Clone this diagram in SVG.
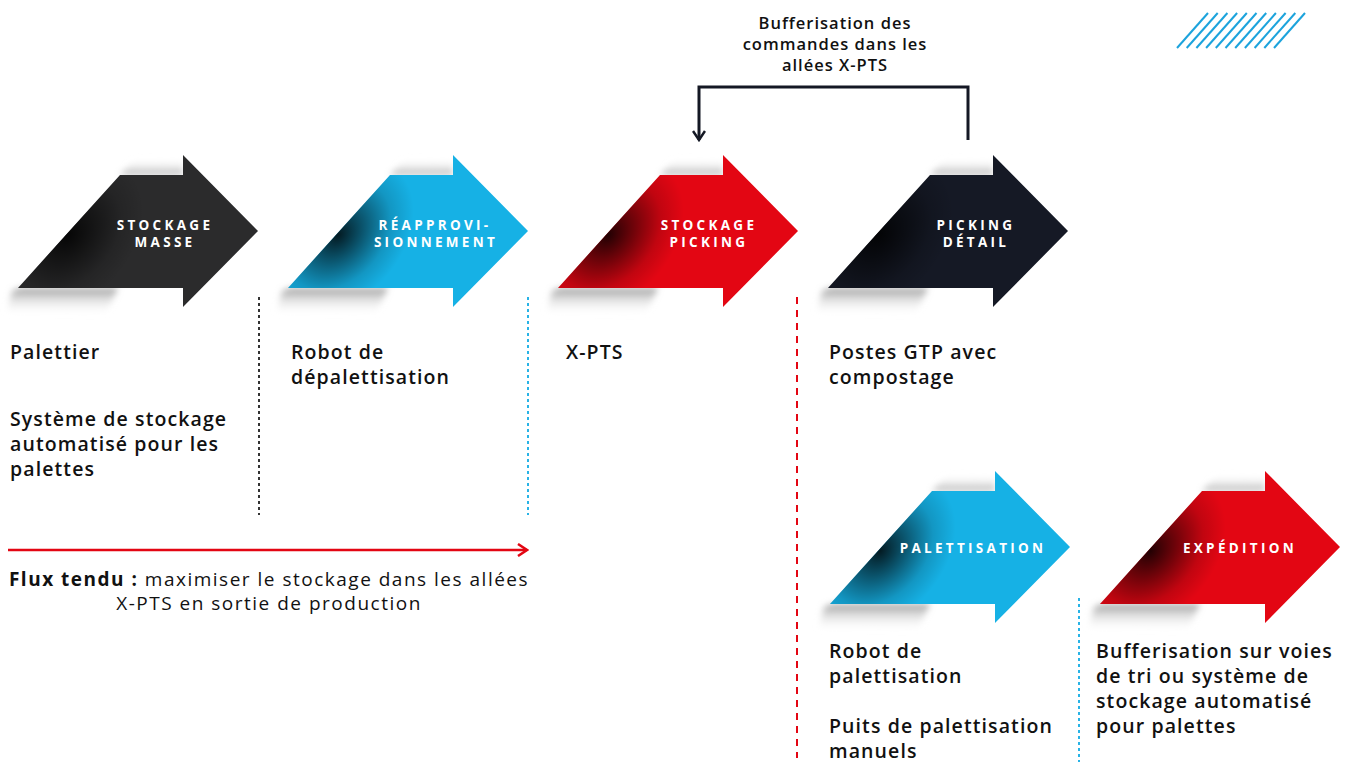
<svg xmlns="http://www.w3.org/2000/svg" width="1349" height="762" viewBox="0 0 1349 762">
<style>
.lbl{font-family:"Open Sans","Liberation Sans",sans-serif;font-weight:700;font-size:13.5px;fill:#fff;letter-spacing:3.3px;text-anchor:middle}
.txt{font-family:"Open Sans","Liberation Sans",sans-serif;font-weight:600;font-size:19.5px;fill:#111;letter-spacing:1.1px}
.top{font-family:"Open Sans","Liberation Sans",sans-serif;font-weight:600;font-size:16.5px;fill:#111;letter-spacing:1px;text-anchor:middle}
.reg{font-family:"Open Sans","Liberation Sans",sans-serif;font-weight:400;font-size:19px;fill:#111;letter-spacing:1.5px;text-anchor:middle}
.sep{fill:none;stroke-width:2}
</style>
<defs>
<path id="arr" d="M0,133 L102,20 L165,20 L165,0 L240,76 L165,152 L165,133 Z"/>
<radialGradient id="shade" gradientUnits="userSpaceOnUse" cx="0" cy="0" r="1" gradientTransform="translate(50,80) rotate(-48) scale(88,64)">
<stop offset="0" stop-color="#000" stop-opacity="0.85"/>
<stop offset="0.35" stop-color="#000" stop-opacity="0.5"/>
<stop offset="0.7" stop-color="#000" stop-opacity="0.15"/>
<stop offset="1" stop-color="#000" stop-opacity="0"/>
</radialGradient>
<linearGradient id="shB" x1="0" y1="0" x2="0" y2="1">
<stop offset="0" stop-color="#9e9e9e"/>
<stop offset="1" stop-color="#fff" stop-opacity="0"/>
</linearGradient>
<linearGradient id="shT" x1="0" y1="1" x2="0" y2="0">
<stop offset="0" stop-color="#b0b0b0"/>
<stop offset="1" stop-color="#fff" stop-opacity="0"/>
</linearGradient>
<filter id="blur" x="-30%" y="-50%" width="160%" height="200%"><feGaussianBlur stdDeviation="3"/></filter>
<g id="shadows">
<path d="M-6,136 L2,133 L100,133 L88,158 L-12,160 Z" fill="url(#shB)" filter="url(#blur)"/>
<path d="M102,20 L118,4 L165,6 L165,20 Z" fill="url(#shT)" filter="url(#blur)"/>
</g>
<marker id="chevN" viewBox="0 0 12 14" refX="10" refY="7" markerWidth="12" markerHeight="14" markerUnits="userSpaceOnUse" orient="auto">
<path d="M1,1 L10,7 L1,13" fill="none" stroke="#141824" stroke-width="2.5"/>
</marker>
<marker id="chevR" viewBox="0 0 12 14" refX="10" refY="7" markerWidth="12" markerHeight="14" markerUnits="userSpaceOnUse" orient="auto">
<path d="M1,1 L10,7 L1,13" fill="none" stroke="#e30613" stroke-width="2.5"/>
</marker>
</defs>
<rect width="1349" height="762" fill="#fff"/>

<g id="hatch" stroke="#1ca3dc" stroke-width="2">
<line x1="1177" y1="48" x2="1208" y2="13"/>
<line x1="1186.7" y1="48" x2="1217.7" y2="13"/>
<line x1="1196.4" y1="48" x2="1227.4" y2="13"/>
<line x1="1206.1" y1="48" x2="1237.1" y2="13"/>
<line x1="1215.8" y1="48" x2="1246.8" y2="13"/>
<line x1="1225.5" y1="48" x2="1256.5" y2="13"/>
<line x1="1235.2" y1="48" x2="1266.2" y2="13"/>
<line x1="1244.9" y1="48" x2="1275.9" y2="13"/>
<line x1="1254.6" y1="48" x2="1285.6" y2="13"/>
<line x1="1264.3" y1="48" x2="1295.3" y2="13"/>
<line x1="1274" y1="48" x2="1305" y2="13"/>
</g>

<g id="node-stockage-masse">
<use href="#shadows" transform="translate(18,155)"/>
<use href="#arr" transform="translate(18,155)" fill="#2b2b2c"/>
<use href="#arr" transform="translate(18,155)" fill="url(#shade)"/>
<text class="lbl" x="165" y="230">STOCKAGE</text>
<text class="lbl" x="165" y="247">MASSE</text>
</g>
<g id="node-reappro">
<use href="#shadows" transform="translate(288,155)"/>
<use href="#arr" transform="translate(288,155)" fill="#16b1e5"/>
<use href="#arr" transform="translate(288,155)" fill="url(#shade)"/>
<text class="lbl" x="435" y="230">RÉAPPROVI-</text>
<text class="lbl" x="436" y="247">SIONNEMENT</text>
</g>
<g id="node-stockage-picking">
<use href="#shadows" transform="translate(558,155)"/>
<use href="#arr" transform="translate(558,155)" fill="#e30613"/>
<use href="#arr" transform="translate(558,155)" fill="url(#shade)"/>
<text class="lbl" x="709" y="230">STOCKAGE</text>
<text class="lbl" x="709" y="247">PICKING</text>
</g>
<g id="node-picking-detail">
<use href="#shadows" transform="translate(828,155)"/>
<use href="#arr" transform="translate(828,155)" fill="#151925"/>
<use href="#arr" transform="translate(828,155)" fill="url(#shade)"/>
<text class="lbl" x="976" y="230">PICKING</text>
<text class="lbl" x="976" y="247">DÉTAIL</text>
</g>
<g id="node-palettisation">
<use href="#shadows" transform="translate(830,471)"/>
<use href="#arr" transform="translate(830,471)" fill="#16b1e5"/>
<use href="#arr" transform="translate(830,471)" fill="url(#shade)"/>
<text class="lbl" x="973" y="553">PALETTISATION</text>
</g>
<g id="node-expedition">
<use href="#shadows" transform="translate(1100,471)"/>
<use href="#arr" transform="translate(1100,471)" fill="#e30613"/>
<use href="#arr" transform="translate(1100,471)" fill="url(#shade)"/>
<text class="lbl" x="1240" y="553">EXPÉDITION</text>
</g>

<g id="separators">
<line class="sep" x1="259" y1="297" x2="259" y2="515" stroke="#333" stroke-dasharray="3,3"/>
<line class="sep" x1="528" y1="297" x2="528" y2="515" stroke="#29b3e6" stroke-dasharray="3,3"/>
<line class="sep" x1="797" y1="297" x2="797" y2="758" stroke="#e30613" stroke-dasharray="7,6"/>
<line class="sep" x1="1079" y1="598" x2="1079" y2="762" stroke="#29b3e6" stroke-dasharray="3,3"/>
</g>

<g id="connectors">
<path d="M968,140 V87 H699 V140" fill="none" stroke="#141824" stroke-width="3" marker-end="url(#chevN)"/>
<path d="M8,550 H527" fill="none" stroke="#e30613" stroke-width="2.5" marker-end="url(#chevR)"/>
</g>

<g id="texts">
<text class="top"><tspan x="835" y="29">Bufferisation des</tspan><tspan x="835" y="50">commandes dans les</tspan><tspan x="835" y="71">allées X-PTS</tspan></text>
<text class="txt" x="10" y="359">Palettier</text>
<text class="txt"><tspan x="10" y="426">Système de stockage</tspan><tspan x="10" y="451">automatisé pour les</tspan><tspan x="10" y="476">palettes</tspan></text>
<text class="txt"><tspan x="291" y="359">Robot de</tspan><tspan x="291" y="384">dépalettisation</tspan></text>
<text class="txt" x="566" y="359">X-PTS</text>
<text class="txt"><tspan x="829" y="359">Postes GTP avec</tspan><tspan x="829" y="384">compostage</tspan></text>
<text class="txt"><tspan x="829" y="658">Robot de</tspan><tspan x="829" y="683">palettisation</tspan><tspan x="829" y="733">Puits de palettisation</tspan><tspan x="829" y="758">manuels</tspan></text>
<text class="txt"><tspan x="1096" y="658">Bufferisation sur voies</tspan><tspan x="1096" y="683">de tri ou système de</tspan><tspan x="1096" y="708">stockage automatisé</tspan><tspan x="1096" y="733">pour palettes</tspan></text>
<text class="reg" x="269" y="586"><tspan font-weight="700">Flux tendu :</tspan> maximiser le stockage dans les allées</text>
<text class="reg" x="269" y="610">X-PTS en sortie de production</text>
</g>
</svg>
